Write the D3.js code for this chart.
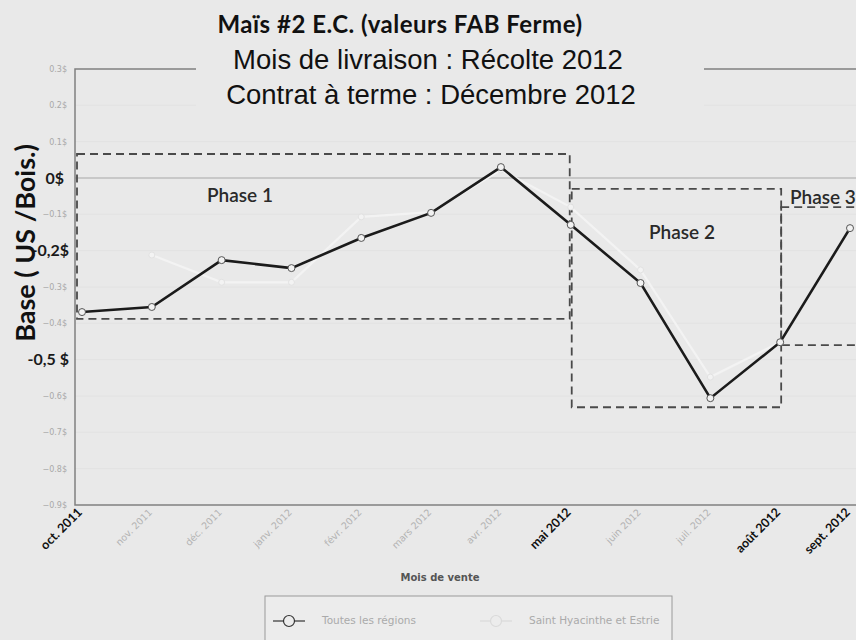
<!DOCTYPE html>
<html><head><meta charset="utf-8">
<script src="https://cdn.jsdelivr.net/npm/d3@7/dist/d3.min.js"></script>
<style>body{margin:0;background:#e9e9e9;} svg{display:block;}</style>
</head><body>
<svg id="c" width="856" height="640"></svg>
<script>
// ---- data ----
const months = ["oct. 2011","nov. 2011","déc. 2011","janv. 2012","févr. 2012","mars 2012","avr. 2012","mai 2012","juin 2012","juil. 2012","août 2012","sept. 2012"];
const boldMonths = ["oct. 2011","mai 2012","août 2012","sept. 2012"];
const toutesRegions = [-0.369,-0.355,-0.226,-0.248,-0.165,-0.096,0.030,-0.129,-0.289,-0.606,-0.452,-0.138];
const saintHyacinthe = [null,-0.212,-0.287,-0.287,-0.107,-0.094,0.022,-0.080,-0.253,-0.548,-0.452,-0.138];
const yTicks = [0.3,0.2,0.1,0,-0.1,-0.2,-0.3,-0.4,-0.5,-0.6,-0.7,-0.8,-0.9];
const yOverlayValues = [0,-0.2,-0.5];
const yOverlayLabels = ["0$","-0,2$","-0,5 $"];
const phaseNames = ["Phase 1","Phase 2","Phase 3"];
const phaseStart = ["oct. 2011","mai 2012","août 2012"];
const phaseEnd = ["mai 2012","août 2012","sept. 2012"];
const phaseTop = [0.066,-0.030,-0.080];
const phaseBottom = [-0.388,-0.631,-0.460];
const seriesNames = ["Toutes les régions","Saint Hyacinthe et Estrie"];

const svg = d3.select("#c");
const W = 856, H = 640;
const pLeft = 75, pTop = 69, pBottom = 505;
const x = d3.scalePoint().domain(months).range([82, 850]);
const y = d3.scaleLinear().domain([-0.9, 0.3]).range([pBottom, pTop]);

svg.append("rect").attr("width",W).attr("height",H).attr("fill","#e9e9e9");

// gridlines
svg.append("g").selectAll("line").data(yTicks.filter(d=>d!==0 && d!==0.3 && d!==-0.9)).join("line")
  .attr("x1",pLeft).attr("x2",W).attr("y1",d=>y(d)).attr("y2",d=>y(d))
  .attr("stroke","#e2e2e2").attr("stroke-width",1);
// zero line
svg.append("line").attr("x1",pLeft).attr("x2",W).attr("y1",y(0)).attr("y2",y(0))
  .attr("stroke","#bdbdbd").attr("stroke-width",1.5);

// frame
svg.append("path").attr("d",`M${W},${pTop}H${pLeft}V${pBottom}H${W}`)
  .attr("fill","none").attr("stroke","#808080").attr("stroke-width",1.5);

// y tick labels (faint)
const yAxis = d3.axisLeft(y).tickValues(yTicks.filter(d=>!yOverlayValues.includes(d)))
  .tickSize(0).tickPadding(8).tickFormat(d=>d3.format(".1f")(d)+"$");
const ga = svg.append("g").attr("transform",`translate(${pLeft},0)`).call(yAxis);
ga.select(".domain").remove();
ga.selectAll("text").attr("fill","#a8a8a8").style("font","8px 'DejaVu Sans'");

// y overlay labels
svg.append("g").selectAll("text").data(yOverlayValues).join("text")
  .attr("x",(d,i)=>i===0?64:69).attr("y",d=>y(d)).attr("dy","0.35em").attr("text-anchor","end")
  .style("font","bold 16px Lato").attr("fill","#1a1a1a")
  .text((d,i)=>yOverlayLabels[i]);

// x labels
const xg = svg.append("g");
months.forEach(m=>{
  const b = boldMonths.includes(m);
  xg.append("text")
    .attr("transform",`translate(${x(m)+1},${pBottom+8}) rotate(-45)`)
    .attr("text-anchor","end")
    .style("font", b ? "bold 12.5px Lato" : "9.5px 'DejaVu Sans'")
    .attr("fill", b ? "#111" : "#b3b3b3")
    .text(m);
});
svg.append("text").attr("x",440).attr("y",581).attr("text-anchor","middle")
  .style("font","bold 10px 'DejaVu Sans'").attr("fill","#555").text("Mois de vente");

// y title
svg.append("text").attr("transform","translate(35,243) rotate(-90)").attr("text-anchor","middle")
  .style("font","bold 27px Lato").attr("fill","#111").text("Base ( US /Bois.)");

// phase boxes
const dash = "8,5";
phaseNames.forEach((p,i)=>{
  const x0 = i===0 ? pLeft+2 : x(phaseStart[i]) + 1;
  const x1 = i===2 ? W+10 : x(phaseEnd[i]) + (i===0?-1:1);
  svg.append("rect").attr("x",x0).attr("y",y(phaseTop[i]))
    .attr("width",x1-x0).attr("height",y(phaseBottom[i])-y(phaseTop[i]))
    .attr("fill","none").attr("stroke","#4a4a4a").attr("stroke-width",1.8)
    .attr("stroke-dasharray",dash);
});

// lines
const line = d3.line().defined(d=>d.v!==null).x(d=>x(d.m)).y(d=>y(d.v));
const s2 = months.map((m,i)=>({m, v:saintHyacinthe[i]}));
const s1 = months.map((m,i)=>({m, v:toutesRegions[i]}));
svg.append("path").datum(s2).attr("d",line).attr("fill","none").attr("stroke","#f3f3f3").attr("stroke-width",2.2);
svg.append("g").selectAll("circle").data(s2.filter(d=>d.v!==null)).join("circle")
  .attr("cx",d=>x(d.m)).attr("cy",d=>y(d.v)).attr("r",3).attr("fill","#f3f3f3").attr("stroke","#e2e2e2");
svg.append("path").datum(s1).attr("d",line).attr("fill","none").attr("stroke","#1b1b1b").attr("stroke-width",2.6);
svg.append("g").selectAll("circle").data(s1).join("circle")
  .attr("cx",d=>x(d.m)).attr("cy",d=>y(d.v)).attr("r",3.5).attr("fill","#f2f2f2").attr("stroke","#555").attr("stroke-width",1);

// phase labels
svg.append("text").attr("x",240).attr("y",202).attr("text-anchor","middle")
  .style("font","600 19px Lato").attr("fill","#2a2a2a").text(phaseNames[0]);
svg.append("text").attr("x",682).attr("y",239).attr("text-anchor","middle")
  .style("font","600 19px Lato").attr("fill","#2a2a2a").text(phaseNames[1]);
svg.append("text").attr("x",790).attr("y",204).attr("text-anchor","start")
  .style("font","600 19px Lato").attr("fill","#2a2a2a").text(phaseNames[2]);

// title block
svg.append("rect").attr("x",196).attr("y",8).attr("width",508).attr("height",110).attr("fill","#e9e9e9");
svg.append("text").attr("x",400).attr("y",33).attr("text-anchor","middle")
  .style("font","bold 24px Lato").style("letter-spacing","0.5px").attr("fill","#111").text("Maïs #2 E.C. (valeurs FAB Ferme)");
svg.append("text").attr("x",428).attr("y",69).attr("text-anchor","middle")
  .style("font","27.5px 'Liberation Sans'").attr("fill","#111").text("Mois de livraison : Récolte 2012");
svg.append("text").attr("x",431).attr("y",104).attr("text-anchor","middle")
  .style("font","27.5px 'Liberation Sans'").attr("fill","#111").text("Contrat à terme : Décembre 2012");

// legend
const lg = svg.append("g");
lg.append("rect").attr("x",265).attr("y",596).attr("width",407).attr("height",60)
  .attr("fill","#ececec").attr("stroke","#9a9a9a").attr("stroke-width",1);
const legX = [273, 480];
const legStroke = ["#333","#dadada"];
seriesNames.forEach((n,i)=>{
  lg.append("line").attr("x1",legX[i]).attr("x2",legX[i]+32).attr("y1",621).attr("y2",621)
    .attr("stroke",legStroke[i]).attr("stroke-width",1.2);
  lg.append("circle").attr("cx",legX[i]+16).attr("cy",621).attr("r",5.5)
    .attr("fill","#ececec").attr("stroke",legStroke[i]).attr("stroke-width",1.2);
  lg.append("text").attr("x",legX[i]+49).attr("y",624).style("font","10.5px 'DejaVu Sans'")
    .attr("fill","#aaa").text(n);
});
</script>
</body></html>
